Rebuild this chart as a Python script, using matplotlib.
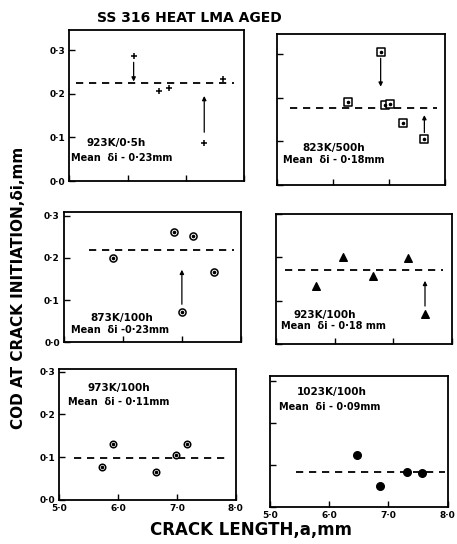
# -*- coding: utf-8 -*-
"""
COD at crack initiation vs crack length, SS 316 heat LMA aged
"""

# %% load libraries
import matplotlib
matplotlib.use("Agg")
import matplotlib.pyplot as plt
from matplotlib.ticker import FuncFormatter

plt.rcParams['font.family'] = ['DejaVu Sans']
plt.rcParams['font.weight'] = 'bold'

# %% data
# 923K / 0.5h  (+ markers)
a_923_05 = [6.10, 6.54, 6.70, 7.31, 7.64]
d_923_05 = [0.286, 0.207, 0.214, 0.088, 0.235]
mean_923_05 = 0.224

# 823K / 500h  (squares)
a_823_500 = [6.85, 6.27, 6.93, 7.01, 7.25, 7.63]
d_823_500 = [0.305, 0.190, 0.183, 0.186, 0.142, 0.105]
mean_823_500 = 0.176

# 873K / 100h  (dotted circles)
a_873_100 = [5.83, 6.86, 7.19, 7.54, 7.00]
d_873_100 = [0.200, 0.262, 0.251, 0.166, 0.072]
mean_873_100 = 0.218

# 923K / 100h  (triangles)
a_923_100 = [5.68, 6.15, 6.66, 7.25, 7.54]
d_923_100 = [0.133, 0.200, 0.156, 0.198, 0.070]
mean_923_100 = 0.171

# 973K / 100h  (open circles)
a_973_100 = [5.72, 5.91, 6.64, 6.98, 7.17]
d_973_100 = [0.078, 0.130, 0.066, 0.105, 0.130]
mean_973_100 = 0.099

# 1023K / 100h  (filled circles)
a_1023_100 = [6.47, 6.86, 7.31, 7.57]
d_1023_100 = [0.123, 0.050, 0.084, 0.081]
mean_1023_100 = 0.082

cond_labels = ['923K/0·5h', '823K/500h', '873K/100h',
               '923K/100h', '973K/100h', '1023K/100h']
mean_labels = ['Mean  δi - 0·23mm', 'Mean  δi - 0·18mm', 'Mean  δi -0·23mm',
               'Mean  δi - 0·18 mm', 'Mean  δi - 0·11mm', 'Mean  δi - 0·09mm']


# %% helpers
def dot_fmt(v, pos):
    return ('%.1f' % v).replace('.', '·')


def style_panel(ax, ytop, left_col, bottom_row):
    ax.set_xlim(5.0, 8.0)
    ax.set_ylim(0.0, ytop)
    ax.set_xticks([5.0, 6.0, 7.0, 8.0])
    ax.set_yticks([0.0, 0.1, 0.2, 0.3])
    ax.tick_params(direction='in', length=4, width=1.0, labelsize=6.5,
                   pad=3)
    ax.xaxis.set_major_formatter(FuncFormatter(dot_fmt))
    ax.yaxis.set_major_formatter(FuncFormatter(dot_fmt))
    if not left_col:
        ax.set_yticklabels([])
    if not bottom_row:
        ax.set_xticklabels([])
    for lab in ax.get_xticklabels() + ax.get_yticklabels():
        lab.set_fontweight('bold')
    for sp in ax.spines.values():
        sp.set_linewidth(1.3)


def mean_line(ax, x0, x1, y):
    ax.plot([x0, x1], [y, y], color='black', lw=1.3,
            linestyle=(0, (4, 3.2)))


def arrow(ax, x, y0, y1):
    ax.annotate('', xy=(x, y1), xytext=(x, y0),
                arrowprops=dict(arrowstyle='-|>', color='black', lw=0.9,
                                mutation_scale=6, shrinkA=0, shrinkB=0))


def labels(ax, i, x0, y0, x1, y1):
    ax.text(x0, y0, cond_labels[i], fontsize=7.5, fontweight='bold',
            va='center', ha='left')
    ax.text(x1, y1, mean_labels[i], fontsize=7, fontweight='bold',
            va='center', ha='left')


def dotted(ax, x, y, marker, size):
    ax.scatter(x, y, marker=marker, s=size, facecolors='white',
               edgecolors='black', linewidths=1.1, zorder=3)
    ax.scatter(x, y, marker='o', s=2.5, color='black', zorder=4)


# %% create figure
fig = plt.figure(figsize=(4.57, 5.44), dpi=100)

ax1 = fig.add_axes([0.152, 0.667, 0.383, 0.277])
ax2 = fig.add_axes([0.606, 0.660, 0.368, 0.277])
ax3 = fig.add_axes([0.140, 0.371, 0.387, 0.240])
ax4 = fig.add_axes([0.604, 0.367, 0.385, 0.240])
ax5 = fig.add_axes([0.130, 0.081, 0.386, 0.240])
ax6 = fig.add_axes([0.590, 0.068, 0.390, 0.240])

style_panel(ax1, 0.345, True, False)
style_panel(ax2, 0.345, False, False)
style_panel(ax3, 0.31, True, False)
style_panel(ax4, 0.30, False, False)
style_panel(ax5, 0.305, True, True)
style_panel(ax6, 0.31, False, True)

# panel 1: 923K / 0.5h
mean_line(ax1, 5.12, 7.82, mean_923_05)
ax1.scatter(a_923_05, d_923_05, marker='+', s=22, color='black',
            linewidths=1.1, zorder=3)
arrow(ax1, a_923_05[0], 0.272, 0.228)
arrow(ax1, a_923_05[3], 0.112, 0.195)
labels(ax1, 0, 5.3, 0.088, 5.03, 0.053)

# panel 2: 823K / 500h
mean_line(ax2, 5.24, 7.85, mean_823_500)
dotted(ax2, a_823_500, d_823_500, 's', 26)
arrow(ax2, a_823_500[0], 0.290, 0.225)
arrow(ax2, a_823_500[-1], 0.120, 0.160)
labels(ax2, 1, 5.46, 0.085, 5.1, 0.057)

# panel 3: 873K / 100h
mean_line(ax3, 5.42, 7.88, mean_873_100)
dotted(ax3, a_873_100, d_873_100, 'o', 26)
arrow(ax3, a_873_100[-1], 0.090, 0.172)
labels(ax3, 2, 5.45, 0.058, 5.12, 0.030)

# panel 4: 923K / 100h
mean_line(ax4, 5.15, 7.85, mean_923_100)
ax4.scatter(a_923_100, d_923_100, marker='^', s=30, color='black',
            zorder=3)
arrow(ax4, a_923_100[-1], 0.088, 0.146)
labels(ax4, 3, 5.29, 0.067, 5.08, 0.042)

# panel 5: 973K / 100h
mean_line(ax5, 5.24, 7.9, mean_973_100)
dotted(ax5, a_973_100, d_973_100, 'o', 22)
labels(ax5, 4, 5.48, 0.262, 5.14, 0.228)

# panel 6: 1023K / 100h
mean_line(ax6, 5.45, 7.95, mean_1023_100)
ax6.scatter(a_1023_100, d_1023_100, marker='o', s=30, color='black',
            zorder=3)
labels(ax6, 5, 5.45, 0.272, 5.15, 0.238)

# titles and axis labels
fig.text(0.415, 0.967, 'SS 316 HEAT LMA AGED', fontsize=10,
         fontweight='bold', ha='center', va='center')
fig.text(0.04, 0.47, 'COD AT CRACK INITIATION,δi,mm', fontsize=11,
         fontweight='bold', rotation=90, ha='center', va='center')
fig.text(0.55, 0.025, 'CRACK LENGTH,a,mm', fontsize=12,
         fontweight='bold', ha='center', va='center')

# save figure
fig.savefig('out.png', dpi=100)
